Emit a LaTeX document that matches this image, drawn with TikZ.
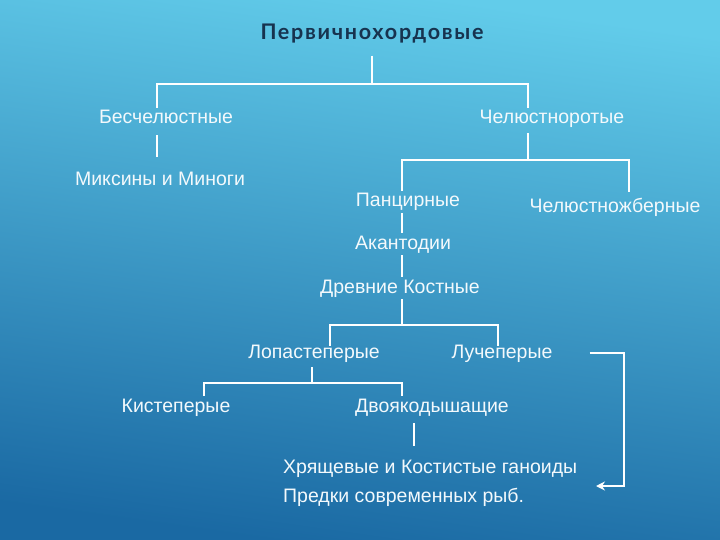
\documentclass[tikz,border=0pt]{standalone}
\usepackage{fontspec}
\setmainfont{Liberation Sans}
\newfontfamily\titlefont[LetterSpace=8]{Lato}
\usetikzlibrary{calc,
	positioning,
	arrows.meta}
\definecolor{bgtop}{HTML}{62CCEA}
\definecolor{bgbottom}{HTML}{1A69A3}
\definecolor{titlecol}{HTML}{17334F}
\definecolor{textcol}{HTML}{F3F9FC}
\tikzset{
	taxon/.style={text=textcol, font=\fontsize{19.5}{22}\selectfont, text height=14pt, text depth=4pt, inner sep=2pt},
	headline/.style={text=titlecol, font=\titlefont\bfseries\fontsize{21.5}{24}\selectfont, text height=15pt, text depth=4pt, inner sep=2pt},
	link/.style={draw=white, line width=2pt},
}

\begin{document}
\begin{tikzpicture}[x=1pt, y=-1pt]
	\shade[top color=bgtop, bottom color=bgbottom, shading angle=-8] (0,0) rectangle (720,540);
	\node[headline] (perv) at (372,34) {Первичнохордовые};
	\node[taxon] (besch) at (166,119) {Бесчелюстные};
	\node[taxon] (chel) at (552,119) {Челюстноротые};
	\node[taxon] (miks) at (160,181) {Миксины и Миноги};
	\node[taxon] (panc) at (408,202) {Панцирные};
	\node[taxon] (chelj) at (615,207) {Челюстножберные};
	\node[taxon] (akan) at (403,244) {Акантодии};
	\node[taxon] (drev) at (400,288) {Древние Костные};
	\node[taxon] (lop) at (314,353) {Лопастеперые};
	\node[taxon] (luch) at (502,353) {Лучеперые};
	\node[taxon] (kist) at (176,407) {Кистеперые};
	\node[taxon] (dvoy) at (432,407) {Двоякодышащие};
	\node[taxon, anchor=west] (hrya) at (281,468) {Хрящевые и Костистые ганоиды};
	\node[taxon, anchor=west] (pred) at (281,497) {Предки современных рыб.};
	\coordinate (arrowend) at (596,486);

	\draw[link, shorten <=10pt] (perv.south) -- ++(0,38) coordinate (bar1);
	\draw[link] ([xshift=-9pt]besch.north) |- (bar1) -| ([xshift=-24pt]chel.north);
	\draw[link, shorten <=5pt, shorten >=13pt] ([xshift=-9pt]besch.south) -- ([xshift=-9pt]besch.south |- miks.north);
	\draw[link, shorten <=3pt] ([xshift=-24pt]chel.south) -- ++(0,30) coordinate (bar2);
	\draw[link] ([xshift=-6pt]panc.north) |- (bar2) -| ([xshift=14pt, yshift=4pt]chelj.north);
	\draw[link] ([xshift=-6pt]panc.south) -- ([xshift=-6pt]panc.south |- akan.north);
	\draw[link] ([xshift=-1pt]akan.south) -- ([xshift=-1pt]akan.south |- drev.north);
	\draw[link] ([xshift=2pt]drev.south) -- ++(0,26) coordinate (bar3);
	\draw[link] ([xshift=16pt, yshift=-4pt]lop.north) |- (bar3) -| ([xshift=-4pt, yshift=-4pt]luch.north);
	\draw[link, shorten <=3pt] ([xshift=-2pt]lop.south) -- ++(0,19) coordinate (bar4);
	\draw[link] ([xshift=28pt]kist.north) |- (bar4) -| ([xshift=-30pt]dvoy.north);
	\draw[link, shorten <=5pt, shorten >=11pt] ([xshift=-18pt]dvoy.south) -- ([xshift=-18pt]dvoy.south |- hrya.north);
	\draw[link, -{Stealth[length=9pt, width=9pt]}] ([xshift=35pt]luch.east) -- ++(34,0) |- (arrowend);
\end{tikzpicture}
\end{document}
